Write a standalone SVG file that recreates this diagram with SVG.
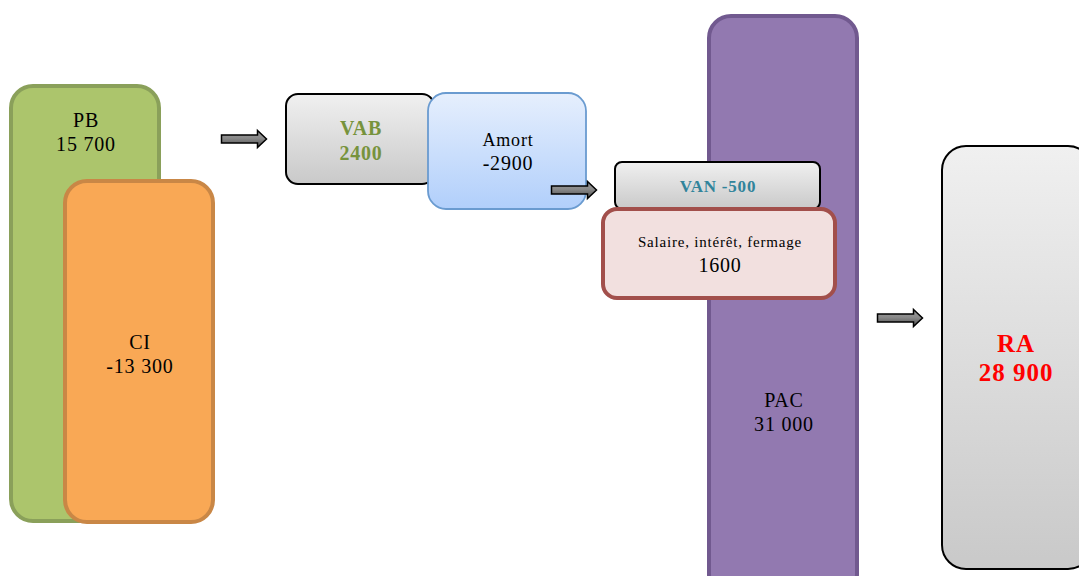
<svg xmlns="http://www.w3.org/2000/svg" width="1079" height="576" viewBox="0 0 1079 576">
<style>
text{font-family:"Liberation Serif","DejaVu Serif",serif;text-anchor:middle;fill:#000;letter-spacing:0.8px}
.t19{font-size:20px}
.gray{fill:url(#gGray);stroke:#000;stroke-width:2}
.arrow{fill:url(#gArrow);stroke:#000;stroke-width:1.5;stroke-linejoin:miter}
</style>
<defs>
<linearGradient id="gGray" x1="0" y1="0" x2="0" y2="1">
<stop offset="0" stop-color="#f0f0f0"/><stop offset="1" stop-color="#c9c9c9"/>
</linearGradient>
<linearGradient id="gBlue" x1="0" y1="0" x2="0" y2="1">
<stop offset="0" stop-color="#e6effd"/><stop offset="1" stop-color="#b1cffb"/>
</linearGradient>
<linearGradient id="gArrow" x1="0" y1="0" x2="0" y2="1">
<stop offset="0" stop-color="#9a9a9a"/><stop offset="0.45" stop-color="#8a8a8a"/><stop offset="1" stop-color="#4f4f4f"/>
</linearGradient>
<path id="arr" d="M0,-4 H36 V-8.5 L45,0 L36,8.5 V4 H0 Z"/>
</defs>
<rect width="1079" height="576" fill="#fff"/>
<g id="PB">
<rect x="11" y="86" width="148" height="435" rx="22" fill="#acc56c" stroke="#8aa05a" stroke-width="4"/>
<text class="t19" x="86" y="127">PB</text>
<text class="t19" x="86" y="151">15 700</text>
</g>
<g id="CI">
<rect x="65" y="181" width="148" height="341" rx="22" fill="#f9a855" stroke="#c98746" stroke-width="4"/>
<text class="t19" x="140" y="349">CI</text>
<text class="t19" x="140" y="373">-13 300</text>
</g>
<g id="VAB">
<rect class="gray" x="286" y="94" width="148" height="90" rx="12"/>
<text class="t19" x="361" y="135" style="fill:#77933c;font-weight:bold">VAB</text>
<text class="t19" x="361" y="160" style="fill:#77933c;font-weight:bold">2400</text>
</g>
<g id="Amort">
<rect x="428" y="93" width="158" height="116" rx="18" fill="url(#gBlue)" stroke="#6a9bd0" stroke-width="1.8"/>
<text x="508" y="146" style="font-size:18px">Amort</text>
<text x="508" y="170" class="t19">-2900</text>
</g>
<g id="PAC">
<rect x="709" y="16" width="148" height="580" rx="22" fill="#9279b0" stroke="#71598f" stroke-width="4"/>
<text class="t19" x="784" y="407">PAC</text>
<text class="t19" x="784" y="431">31 000</text>
</g>
<g id="VAN">
<rect class="gray" x="615" y="162" width="205" height="47" rx="7"/>
<text x="718" y="192" style="font-size:17px;font-weight:bold;fill:#31849b">VAN -500</text>
</g>
<g id="Salaire">
<rect x="603" y="209" width="232" height="89" rx="14" fill="#f2e0df" stroke="#a24f4b" stroke-width="4"/>
<text x="720" y="247" style="font-size:15px;letter-spacing:0.8px">Salaire, intérêt, fermage</text>
<text x="720" y="272" class="t19">1600</text>
</g>
<g id="RA">
<rect class="gray" x="942" y="146" width="150" height="423" rx="24"/>
<text x="1016" y="352" style="font-size:25px;font-weight:bold;fill:#ff0000;letter-spacing:1px">RA</text>
<text x="1016" y="381" style="font-size:25px;font-weight:bold;fill:#ff0000;letter-spacing:1px">28 900</text>
</g>
<g id="connectors">
<use href="#arr" class="arrow" x="221.5" y="139"/>
<use href="#arr" class="arrow" x="551.5" y="190"/>
<use href="#arr" class="arrow" x="877.5" y="318"/>
</g>
</svg>
